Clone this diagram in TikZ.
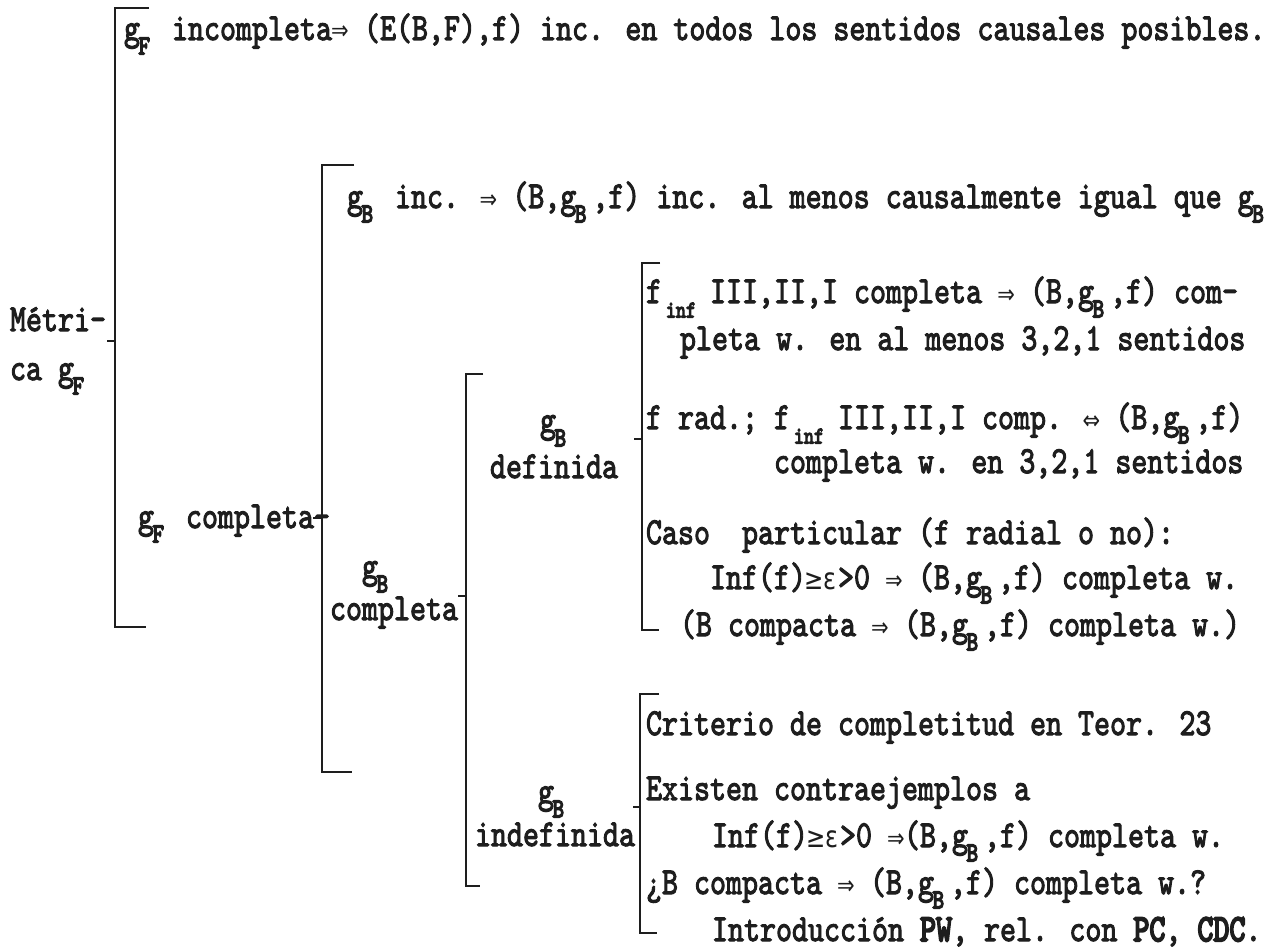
\documentclass[tikz,border=0pt]{standalone}
\usepackage{fontspec}
\newfontfamily\tw{lmmono10-regular.otf}[FakeBold=3]
\newfontfamily\twb{lmmono10-regular.otf}[FakeBold=5.5]
\newfontfamily\sym{DejaVu Sans}
\newlength\cw \setlength\cw{16pt}
\newcommand\T{\fontsize{30.48pt}{36pt}\tw}
\newcommand\sbs[1]{\makebox[\cw][l]{\hspace{-1.5pt}\raisebox{-11.5pt}{\fontsize{22pt}{22pt}\twb #1}}}
\newcommand\inff{\makebox[2\cw][l]{\hspace{0.25\cw}\raisebox{-11.5pt}{\fontsize{19pt}{19pt}\twb inf}}}
\newcommand\arw[1]{\makebox[\cw][c]{\fontsize{21pt}{21pt}\sym #1}}
\newcommand\geps{\makebox[\cw][c]{\fontsize{23pt}{23pt}\sym ≥}\makebox[\cw][c]{\fontsize{24pt}{24pt}\sym ε}}
\newcommand\lin[1]{\scalebox{1}[1.25]{\T #1}}
\newcommand\bld[1]{{\twb #1}}
\definecolor{ink}{HTML}{1E1E1E}
\tikzset{
  tx/.style={inner sep=0pt, outer sep=0pt, anchor=base west, text=ink},
  brk/.style={draw=ink, line width=2.4pt, line cap=butt, line join=miter}
}
\begin{document}
\begin{tikzpicture}[x=1pt, y=-1pt]
\useasboundingbox (0,0) rectangle (1273,950);
% ---- brackets
\draw[brk] (149,8) -- (115,8) -- (115,627) -- (146,627);
\draw[brk] (107,341) -- (115,341);
\draw[brk] (354,165) -- (322,165) -- (322,772) -- (352,772);
\draw[brk] (313,518) -- (322,518);
\draw[brk] (483,374) -- (466,374) -- (466,886) -- (480,886);
\draw[brk] (458,596) -- (466,596);
\draw[brk] (660,263) -- (642,263) -- (642,630) -- (659,630);
\draw[brk] (634,439) -- (642,439);
\draw[brk] (659,694) -- (640,694) -- (640,933) -- (657,933);
\draw[brk] (633,807) -- (640,807);
% ---- left labels
\node[tx] (met) at (10,331) {\lin{Métri-}};
\node[tx] (ca) at (10,380) {\lin{ca g\sbs{F}}};
\node[tx] (l1) at (124,40) {\lin{g\sbs{F} incompleta\arw{⇒} (E(B,F),f) inc. en todos los sentidos causales posibles.}};
\node[tx] (gfc) at (138,528) {\lin{g\sbs{F} completa-}};
\node[tx] (l2) at (347,208) {\lin{g\sbs{B} inc. \arw{⇒} (B,g\sbs{B},f) inc. al menos causalmente igual que g\sbs{B}}};
\node[tx] (gbc1) at (362,578) {\lin{g\sbs{B}}};
\node[tx] (gbc2) at (330,620) {\lin{completa}};
\node[tx] (gbd1) at (540,432) {\lin{g\sbs{B}}};
\node[tx] (gbd2) at (490,478) {\lin{definida}};
\node[tx] (gbi1) at (538,803) {\lin{g\sbs{B}}};
\node[tx] (gbi2) at (475,846) {\lin{indefinida}};
% ---- definida items
\node[tx] (d1) at (646,303) {\lin{f\inff{} III,II,I completa \arw{⇒} (B,g\sbs{B},f) com-}};
\node[tx] (d2) at (680,350) {\lin{pleta w. en al menos 3,2,1 sentidos}};
\node[tx] (d3) at (646,429) {\lin{f rad.; f\inff{} III,II,I comp. \arw{⇔} (B,g\sbs{B},f)}};
\node[tx] (d4) at (774,473) {\lin{completa w. en 3,2,1 sentidos}};
\node[tx] (d5) at (646,544) {\lin{Caso\ \ particular (f radial o no):}};
\node[tx] (d6) at (710,589) {\lin{Inf(f)\geps>0 \arw{⇒} (B,g\sbs{B},f) completa w.}};
\node[tx] (d7) at (680,636) {\lin{(B compacta \arw{⇒} (B,g\sbs{B},f) completa w.)}};
% ---- indefinida items
\node[tx] (i1) at (646,735) {\lin{Criterio de completitud en Teor. 23}};
\node[tx] (i2) at (646,800) {\lin{Existen contraejemplos a}};
\node[tx] (i3) at (712,847) {\lin{Inf(f)\geps>0 \arw{⇒}(B,g\sbs{B},f) completa w.}};
\node[tx] (i4) at (646,894) {\lin{¿B compacta \arw{⇒} (B,g\sbs{B},f) completa w.?}};
\node[tx] (i5) at (712,941) {\lin{Introducción \bld{PW}, rel. con \bld{PC}, \bld{CDC}.}};
\end{tikzpicture}
\end{document}
